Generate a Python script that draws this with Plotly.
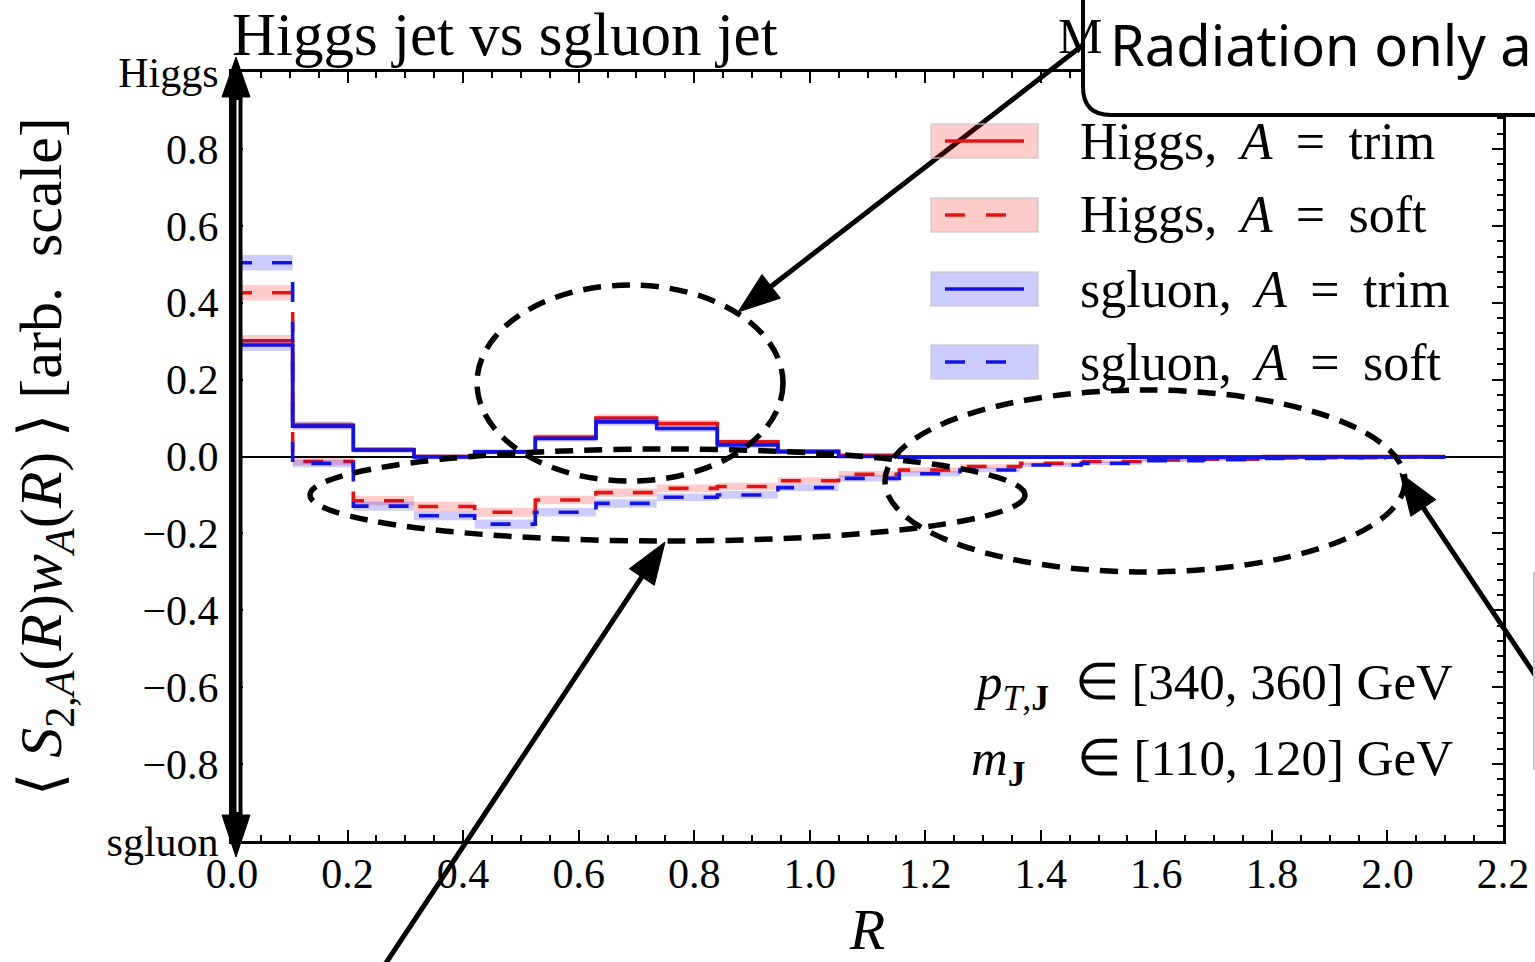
import plotly.graph_objects as go

# ---------------- data ----------------
R_edges = [0.0, 0.105, 0.21, 0.315, 0.42, 0.525, 0.63, 0.735, 0.84, 0.945, 1.05,
           1.155, 1.26, 1.365, 1.47, 1.575, 1.68, 1.785, 1.89, 1.995, 2.1]

higgs_trim = [0.301, 0.082, 0.018, 0.000, 0.012, 0.050, 0.100, 0.086, 0.038, 0.014,
              0.003, -0.001, -0.001, -0.001, -0.001, -0.001, -0.001, 0.000, 0.000, 0.000]
higgs_trim_err = [0.015, 0.010, 0.007, 0.006, 0.006, 0.008, 0.010, 0.009, 0.007, 0.005,
                  0.004, 0.003, 0.003, 0.003, 0.002, 0.002, 0.002, 0.002, 0.002, 0.002]

higgs_soft = [0.426, -0.013, -0.115, -0.130, -0.145, -0.113, -0.094, -0.083, -0.078, -0.063,
              -0.046, -0.035, -0.026, -0.018, -0.013, -0.009, -0.007, -0.004, -0.003, -0.002]
higgs_soft_err = [0.020, 0.010, 0.012, 0.012, 0.012, 0.011, 0.011, 0.010, 0.010, 0.009,
                  0.008, 0.007, 0.006, 0.005, 0.004, 0.003, 0.003, 0.002, 0.002, 0.002]

sgluon_trim = [0.290, 0.079, 0.017, -0.001, 0.012, 0.047, 0.090, 0.073, 0.030, 0.012,
               0.000, -0.002, -0.002, -0.002, -0.002, -0.002, -0.002, -0.001, -0.001, -0.001]
sgluon_trim_err = [0.015, 0.010, 0.007, 0.006, 0.006, 0.008, 0.010, 0.009, 0.007, 0.005,
                   0.004, 0.003, 0.003, 0.003, 0.002, 0.002, 0.002, 0.002, 0.002, 0.002]

sgluon_soft = [0.504, -0.018, -0.129, -0.154, -0.176, -0.145, -0.122, -0.106, -0.100, -0.081,
               -0.057, -0.045, -0.035, -0.022, -0.018, -0.011, -0.008, -0.005, -0.003, -0.002]
sgluon_soft_err = [0.020, 0.010, 0.012, 0.012, 0.012, 0.011, 0.011, 0.010, 0.010, 0.009,
                   0.008, 0.007, 0.006, 0.005, 0.004, 0.003, 0.003, 0.002, 0.002, 0.002]

x_ticks = [0.0, 0.2, 0.4, 0.6, 0.8, 1.0, 1.2, 1.4, 1.6, 1.8, 2.0, 2.2]
x_ticktext = ["0.0", "0.2", "0.4", "0.6", "0.8", "1.0", "1.2", "1.4", "1.6", "1.8", "2.0", "2.2"]
y_ticks = [-1.0, -0.8, -0.6, -0.4, -0.2, 0.0, 0.2, 0.4, 0.6, 0.8, 1.0]
y_ticktext = ["sgluon", "\u22120.8", "\u22120.6", "\u22120.4", "\u22120.2", "0.0",
              "0.2", "0.4", "0.6", "0.8", "Higgs"]

NB = "\u00a0"
TS = "\u2009"
SP = NB + TS


def legend_label(particle, mode):
    return particle + "," + SP + "<i>A</i>" + SP + "=" + SP + mode


series = [
    (legend_label("Higgs", "trim"), higgs_trim, higgs_trim_err, "rgb(228,20,20)", "solid", "rgba(255,0,0,0.2)"),
    (legend_label("Higgs", "soft"), higgs_soft, higgs_soft_err, "rgb(228,20,20)", "20px,20px", "rgba(255,0,0,0.2)"),
    (legend_label("sgluon", "trim"), sgluon_trim, sgluon_trim_err, "rgb(20,20,225)", "solid", "rgba(0,0,255,0.2)"),
    (legend_label("sgluon", "soft"), sgluon_soft, sgluon_soft_err, "rgb(20,20,225)", "20px,20px", "rgba(0,0,255,0.2)"),
]

SERIF = "Liberation Serif"

# ---------------- layout geometry (pixels) ----------------
W, H = 1535, 962
ML, MR, MT, MB = 232, 32, 72, 121
PW, PH = W - ML - MR, H - MT - MB


def px(x):
    return (x - ML) / PW


def py(y):
    return (H - MB - y) / PH


fig = go.Figure()

for name, vals, err, col, dash, fillc in series:
    xs = R_edges
    ys = vals + [vals[-1]]
    es = err + [err[-1]]
    lo = [v - e for v, e in zip(ys, es)]
    hi = [v + e for v, e in zip(ys, es)]
    fig.add_trace(go.Scatter(x=xs, y=lo, mode="lines", line=dict(width=0, shape="hv"),
                             showlegend=False, hoverinfo="skip"))
    fig.add_trace(go.Scatter(x=xs, y=hi, mode="lines", line=dict(width=0, shape="hv"),
                             fill="tonexty", fillcolor=fillc, showlegend=False, hoverinfo="skip"))
    fig.add_trace(go.Scatter(x=xs, y=ys, mode="lines", name=name,
                             line=dict(color=col, width=3.6, dash=dash, shape="hv"),
                             showlegend=False))

shapes = []
annotations = []


def line_px(x0, y0, x1, y1, width=5, color="black", dash=None):
    d = dict(type="line", xref="paper", yref="paper", x0=px(x0), y0=py(y0), x1=px(x1), y1=py(y1),
             line=dict(color=color, width=width), layer="above")
    if dash:
        d["line"]["dash"] = dash
    shapes.append(d)


def arrow_px(sx, sy, tx, ty, L=42, hw=15, width=5):
    dx, dy = tx - sx, ty - sy
    n = (dx * dx + dy * dy) ** 0.5
    ux, uy = dx / n, dy / n
    bx, by = tx - ux * L, ty - uy * L
    nx, ny = -uy, ux
    line_px(sx, sy, bx + ux * 2, by + uy * 2, width=width)
    p1 = (bx + nx * hw, by + ny * hw)
    p2 = (bx - nx * hw, by - ny * hw)
    path = "M {} {} L {} {} L {} {} Z".format(px(tx), py(ty), px(p1[0]), py(p1[1]), px(p2[0]), py(p2[1]))
    shapes.append(dict(type="path", xref="paper", yref="paper", path=path,
                       fillcolor="black", line=dict(color="black", width=1), layer="above"))


def ellipse_px(x0, y0, x1, y1):
    shapes.append(dict(type="circle", xref="paper", yref="paper",
                       x0=px(x0), x1=px(x1), y0=py(y1), y1=py(y0),
                       line=dict(color="black", width=5.5, dash="18px,11px"), layer="above"))


# dashed ellipses
ellipse_px(477, 285, 783, 481)
ellipse_px(310, 449, 1025, 541)
ellipse_px(885, 390, 1405, 572)

# arrows
arrow_px(1083, 45, 738, 312)
arrow_px(378, 975, 665, 542)
arrow_px(1545, 690, 1400, 473)

# left double arrow (Higgs <-> sgluon)
line_px(236, 95, 236, 817, width=13)
line_px(237.5, 100, 237.5, 812, width=2, color="white")
for tip, base in [(57, 97), (857, 815)]:
    path = "M {} {} L {} {} L {} {} Z".format(px(236), py(tip), px(222), py(base), px(250), py(base))
    shapes.append(dict(type="path", xref="paper", yref="paper", path=path,
                       fillcolor="black", line=dict(color="black", width=1), layer="above"))

# callout box (rounded corner)
r = 28
bx0, by1 = 1083, 115
path = ("M {a} {b} L {c} {b} L {c} {d} Q {c} {e} {f} {e} L {a} {e} Z"
        .format(a=px(1620), b=py(-40), c=px(bx0), d=py(by1 - r), e=py(by1), f=px(bx0 + r)))
shapes.append(dict(type="path", xref="paper", yref="paper", path=path,
                   fillcolor="white", line=dict(color="black", width=4), layer="above"))

# faint partial frame at right edge
line_px(1534, 572, 1534, 770, width=2, color="rgb(200,200,200)")

# manual legend
legend_rows = [141, 215, 289, 362]
for (name, vals, err, col, dash, fillc), yc in zip(series, legend_rows):
    shapes.append(dict(type="rect", xref="paper", yref="paper",
                       x0=px(931), x1=px(1038), y0=py(yc + 17), y1=py(yc - 17),
                       fillcolor=fillc, line=dict(color="rgba(200,200,200,0.6)", width=2), layer="above"))
    ld = dict(color=col, width=3.6)
    if dash != "solid":
        ld["dash"] = "20px,21px"
    shapes.append(dict(type="line", xref="paper", yref="paper",
                       x0=px(945), x1=px(1024), y0=py(yc), y1=py(yc), line=ld, layer="above"))
    annotations.append(dict(text=name, xref="paper", yref="paper", x=px(1078), y=py(yc),
                            xanchor="left", yanchor="middle", showarrow=False,
                            font=dict(family=SERIF, size=52, color="black")))

# kinematic cuts text
annotations.append(dict(text="<i>p</i><sub><i>T</i>,<b>J</b></sub>  \u2208 [340, 360] GeV",
                        xref="paper", yref="paper", x=px(1455), y=py(686), xanchor="right",
                        yanchor="middle", showarrow=False, font=dict(family=SERIF, size=51, color="black")))
annotations.append(dict(text="<i>m</i><sub><b>J</b></sub>    \u2208 [110, 120] GeV",
                        xref="paper", yref="paper", x=px(1455), y=py(762), xanchor="right",
                        yanchor="middle", showarrow=False, font=dict(family=SERIF, size=51, color="black")))

# partially hidden title on right
annotations.append(dict(text="M", xref="paper", yref="paper", x=px(1056), y=py(36), xanchor="left",
                        yanchor="middle", showarrow=False, font=dict(family=SERIF, size=50, color="black")))
# callout text
annotations.append(dict(text="Radiation only a", xref="paper", yref="paper", x=px(1108), y=py(44),
                        xanchor="left", yanchor="middle", showarrow=False,
                        font=dict(family="Noto Sans", size=56, color="black")))

axis_common = dict(showgrid=False, showline=True, linecolor="black", linewidth=3, mirror="allticks",
                   ticks="inside", ticklen=11, tickwidth=2, tickcolor="black", automargin=False,
                   tickfont=dict(family=SERIF, size=42, color="black"))

fig.update_layout(
    width=W, height=H,
    margin=dict(l=ML, r=MR, t=MT, b=MB),
    plot_bgcolor="white", paper_bgcolor="white",
    showlegend=False,
    title=dict(text="Higgs jet vs sgluon jet", x=232 / W, xanchor="left", xref="container",
               y=1 - 34 / H, yanchor="middle", yref="container",
               font=dict(family=SERIF, size=61, color="black")),
    xaxis=dict(range=[0, 2.2], tickvals=x_ticks, ticktext=x_ticktext, zeroline=False,
               minor=dict(dtick=0.05, ticks="inside", ticklen=6, tickwidth=2, tickcolor="black"),
               title=dict(text="<i>R</i>", font=dict(family=SERIF, size=58, color="black"), standoff=13),
               ticklabelstandoff=-6,
               **axis_common),
    yaxis=dict(range=[-1, 1], tickvals=y_ticks, ticktext=y_ticktext,
               zeroline=True, zerolinecolor="black", zerolinewidth=2,
               minor=dict(dtick=0.04, ticks="inside", ticklen=6, tickwidth=2, tickcolor="black"),
               title=dict(text="\u27e8" + NB + "<i>S</i><sub>2,<i>A</i></sub>(<i>R</i>)<i>w</i><sub><i>A</i></sub>(<i>R</i>)" + NB + "\u27e9" + NB + "[arb." + NB + NB + "scale]",
                          font=dict(family=SERIF, size=60, color="black"), standoff=26),
               ticklabelstandoff=2,
               **axis_common),
    shapes=shapes,
    annotations=annotations,
)

fig.write_html("out.html", config={"displayModeBar": False})
